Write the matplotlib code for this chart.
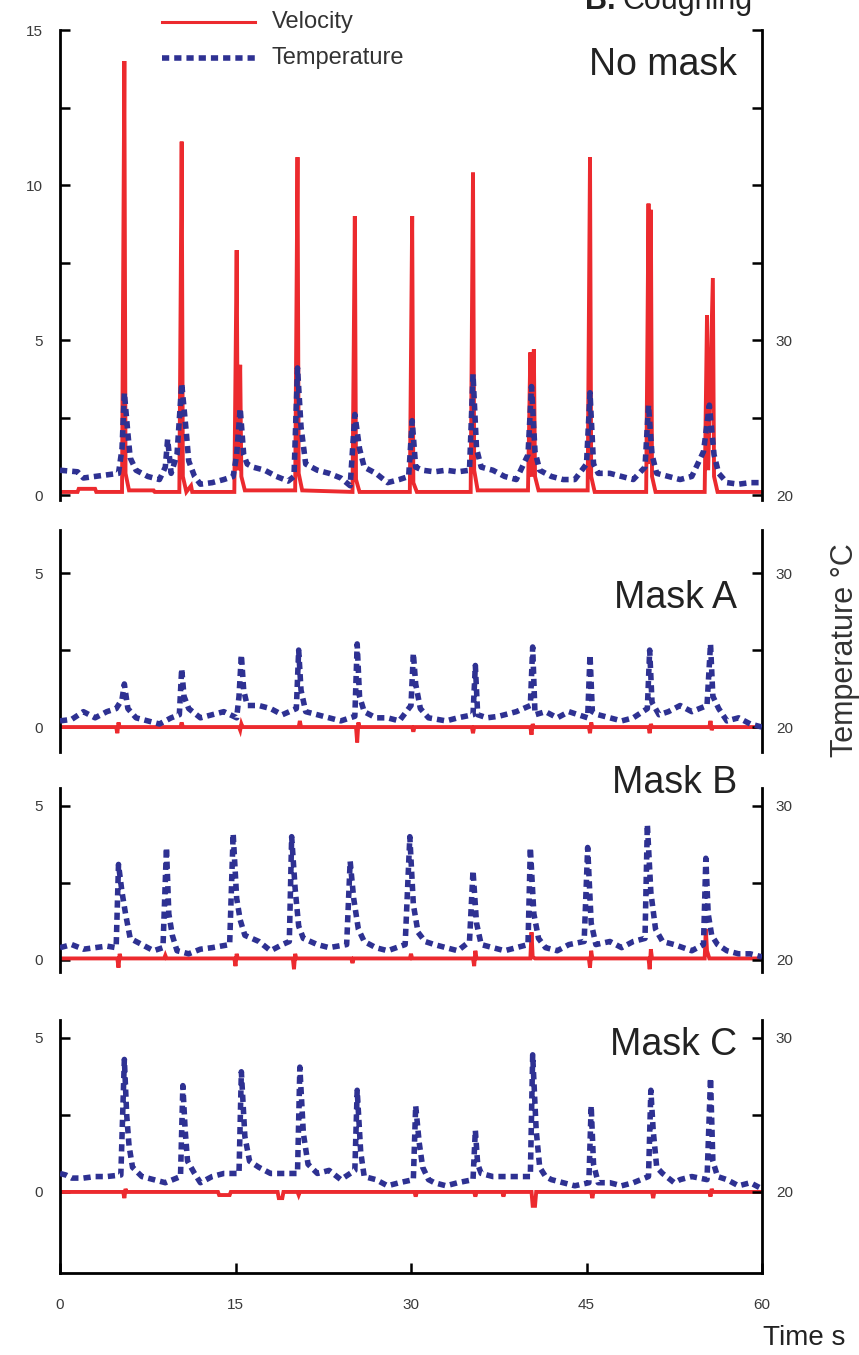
import matplotlib
matplotlib.use("Agg")
import matplotlib.pyplot as plt
from matplotlib.lines import Line2D

plt.rcParams['font.family'] = ['Liberation Sans', 'DejaVu Sans']

W, H = 859, 1355
RED = '#ec2a2e'
BLUE = '#2e3192'

panel_names = ["No mask", "Mask A", "Mask B", "Mask C"]
x_ticks = [0, 15, 30, 45, 60]

# ---- velocity (m/s, left axis) as (time s, value) ----
vel_nomask = [(0, 0.1), (1.5, 0.1), (1.6, 0.2), (3, 0.2), (3.1, 0.1), (5.3, 0.1), (5.5, 14.0), (5.6, 0.7),
              (5.9, 0.15), (8, 0.15), (8.1, 0.1), (10.2, 0.1), (10.4, 11.4), (10.5, 0.6), (10.8, 0.1),
              (11.2, 0.3), (11.3, 0.1), (14.9, 0.1), (15.1, 7.9), (15.2, 0.8), (15.4, 4.2), (15.5, 0.6),
              (15.8, 0.15), (20.1, 0.15), (20.3, 10.9), (20.4, 0.7), (20.7, 0.15), (25.0, 0.1), (25.2, 9.0),
              (25.3, 0.5), (25.6, 0.1), (29.9, 0.1), (30.1, 9.0), (30.2, 0.4), (30.5, 0.1), (35.1, 0.1),
              (35.3, 10.4), (35.4, 0.8), (35.7, 0.15), (40.0, 0.15), (40.2, 4.6), (40.3, 0.6), (40.5, 4.7),
              (40.6, 0.6), (40.9, 0.15), (45.1, 0.15), (45.3, 10.9), (45.4, 0.6), (45.7, 0.1), (50.1, 0.1),
              (50.3, 9.4), (50.4, 1.0), (50.5, 9.2), (50.6, 0.6), (50.9, 0.1), (55.1, 0.1), (55.3, 5.8),
              (55.4, 0.8), (55.8, 7.0), (55.9, 0.6), (56.2, 0.1), (60, 0.1)]
vel_maskA = [(0, 0), (4.8, 0), (4.9, -0.2), (5.0, 0.15), (5.1, 0), (10.3, 0), (10.4, 0.15), (10.5, 0),
             (15.3, 0), (15.4, -0.1), (15.5, 0.1), (15.6, 0), (20.4, 0), (20.5, 0.2), (20.6, 0), (25.3, 0),
             (25.4, -0.5), (25.5, 0.15), (25.6, 0), (30.1, 0), (30.2, -0.15), (30.3, 0), (35.2, 0),
             (35.3, -0.2), (35.4, 0), (40.2, 0), (40.3, -0.25), (40.4, 0.1), (40.5, 0), (45.2, 0),
             (45.3, -0.2), (45.4, 0.15), (45.5, 0), (50.3, 0), (50.4, -0.2), (50.5, 0.1), (50.6, 0),
             (55.5, 0), (55.6, 0.2), (55.7, -0.1), (55.8, 0), (60, 0)]
vel_maskB = [(0, 0.05), (4.9, 0.05), (5.0, -0.25), (5.1, 0.2), (5.2, 0.05), (8.9, 0.05), (9.0, 0.15),
             (9.1, 0.05), (14.9, 0.05), (15.0, -0.2), (15.1, 0.2), (15.2, 0.05), (19.9, 0.05), (20.0, -0.3),
             (20.1, 0.2), (20.2, 0.05), (24.9, 0.05), (25.0, -0.1), (25.1, 0.05), (29.9, 0.05), (30.0, 0.2),
             (30.1, 0.05), (35.3, 0.05), (35.4, -0.2), (35.5, 0.3), (35.6, 0.05), (40.2, 0.05), (40.3, 0.9),
             (40.4, 0.1), (40.6, 0.05), (45.2, 0.05), (45.3, -0.25), (45.4, 0.3), (45.5, 0.05), (50.3, 0.05),
             (50.4, -0.3), (50.5, 0.35), (50.6, 0.05), (55.1, 0.05), (55.2, 1.0), (55.3, 0.3), (55.5, 0.05),
             (60, 0.05)]
vel_maskC = [(0, 0), (5.4, 0), (5.5, -0.2), (5.6, 0.1), (5.7, 0), (13.5, 0), (13.6, -0.1), (14.5, -0.1),
             (14.6, 0), (18.6, 0), (18.7, -0.2), (19.0, -0.2), (19.1, 0), (20.3, 0), (20.4, -0.1), (20.5, 0),
             (30.3, 0), (30.4, -0.15), (30.5, 0), (35.4, 0), (35.5, -0.15), (35.6, 0), (37.8, 0),
             (37.9, -0.15), (38.0, 0), (40.3, 0), (40.4, -0.45), (40.6, -0.45), (40.7, 0), (45.4, 0),
             (45.5, -0.2), (45.6, 0), (50.6, 0), (50.7, -0.2), (50.8, 0), (55.5, 0), (55.6, -0.15),
             (55.7, 0.1), (55.8, 0), (60, 0)]

# ---- temperature (deg C, right axis) as (time s, value) ----
temp_nomask = [(0, 21.6), (1.5, 21.5), (2.0, 21.1), (3.0, 21.2), (4.0, 21.3), (5.0, 21.4), (5.3, 23.0),
               (5.5, 26.6), (5.8, 24.0), (6.0, 22.4), (6.5, 21.6), (7.5, 21.2), (8.5, 21.0), (9.0, 21.8),
               (9.2, 23.6), (9.5, 21.4), (10.0, 22.6), (10.4, 27.2), (10.8, 24.0), (11.0, 22.2), (11.5, 21.2),
               (12.0, 20.7), (13.0, 20.8), (14.0, 21.0), (14.8, 21.2), (15.1, 22.6), (15.4, 25.6), (15.7, 22.6),
               (16.0, 22.0), (16.5, 21.8), (17.5, 21.6), (18.5, 21.2), (19.5, 20.9), (20.0, 21.2), (20.3, 28.2),
               (20.6, 24.4), (21.0, 22.0), (22.0, 21.6), (23.0, 21.4), (24.0, 21.1), (24.8, 20.6), (25.2, 25.2),
               (25.6, 23.0), (26.0, 21.8), (27.0, 21.4), (28.0, 20.8), (29.0, 21.0), (29.8, 21.2), (30.1, 24.8),
               (30.4, 21.8), (31.0, 21.6), (32.0, 21.5), (33.0, 21.6), (34.0, 21.5), (35.0, 21.6), (35.3, 27.8),
               (35.6, 23.0), (36.0, 21.8), (37.0, 21.6), (38.0, 21.2), (39.0, 21.0), (40.0, 22.6), (40.3, 27.0),
               (40.6, 22.8), (41.0, 21.6), (42.0, 21.2), (43.0, 21.0), (44.0, 21.0), (45.0, 22.0), (45.3, 26.6),
               (45.6, 22.0), (46.0, 21.4), (47.0, 21.4), (48.0, 21.2), (49.0, 21.0), (50.0, 21.8), (50.3, 25.8),
               (50.6, 22.6), (51.0, 21.4), (52.0, 21.2), (53.0, 21.0), (54.0, 21.2), (55.0, 22.8), (55.5, 25.8),
               (55.9, 22.6), (56.3, 21.4), (57.0, 20.8), (58.0, 20.7), (59.0, 20.8), (60.0, 20.8)]
temp_maskA = [(0, 20.4), (1, 20.5), (2, 21.0), (3, 20.6), (4, 21.0), (4.8, 21.2), (5.3, 21.8), (5.5, 22.8),
              (5.8, 21.2), (6.5, 20.6), (7.5, 20.4), (8.5, 20.2), (9.5, 20.6), (10.2, 20.8), (10.4, 23.8),
              (10.6, 22.0), (11, 21.2), (12, 20.6), (13, 20.8), (14, 21.0), (15.1, 20.6), (15.3, 22.0),
              (15.5, 24.7), (15.7, 22.4), (16, 21.4), (17, 21.4), (18, 21.2), (19, 20.8), (20.2, 21.2),
              (20.4, 25.0), (20.6, 22.4), (21, 21.0), (22, 20.8), (23, 20.6), (24, 20.4), (25.2, 20.7),
              (25.4, 25.4), (25.6, 22.0), (26, 21.0), (27, 20.6), (28, 20.6), (29, 20.4), (30.0, 21.4),
              (30.2, 24.8), (30.4, 22.8), (30.8, 21.2), (31.5, 20.6), (33, 20.4), (34, 20.6), (35.3, 20.8),
              (35.5, 24.0), (35.7, 20.8), (36.5, 20.6), (37.5, 20.7), (39, 21.0), (40.2, 21.4), (40.4, 25.2),
              (40.6, 20.8), (41.5, 21.0), (42.5, 20.6), (43.5, 21.0), (45.1, 20.6), (45.3, 24.7), (45.5, 21.0),
              (46, 20.8), (47, 20.6), (48, 20.4), (49, 20.6), (50.2, 21.2), (50.4, 25.0), (50.6, 21.6),
              (51.2, 20.8), (52, 21.0), (53, 21.4), (54, 21.0), (55.3, 21.4), (55.6, 25.4), (55.8, 22.0),
              (56.3, 21.2), (57, 20.4), (58, 20.6), (59, 20.2), (60, 20.0)]
temp_maskB = [(0, 20.8), (1, 21.0), (2, 20.7), (3, 20.8), (4, 20.9), (4.8, 20.8), (5.0, 26.2), (5.3, 24.4),
              (5.6, 23.0), (6, 21.4), (7, 21.0), (8, 20.6), (8.8, 20.8), (9.1, 27.3), (9.3, 23.0), (9.6, 21.6),
              (10, 20.6), (11, 20.4), (12, 20.7), (13, 20.8), (14.5, 21.0), (14.8, 28.2), (15.1, 24.0),
              (15.4, 22.6), (15.8, 21.6), (17, 21.2), (18, 20.6), (19, 21.0), (19.6, 21.2), (19.8, 28.0),
              (20.1, 24.6), (20.4, 22.2), (20.8, 21.4), (22, 21.0), (23, 20.8), (24.5, 21.0), (24.8, 26.4),
              (25.1, 24.0), (25.5, 22.0), (26, 21.2), (27, 20.8), (28, 20.6), (29.5, 21.0), (29.9, 28.0),
              (30.2, 23.6), (30.6, 21.8), (31.2, 21.2), (32, 21.0), (33, 20.8), (34, 20.6), (35, 21.2),
              (35.3, 25.8), (35.6, 22.4), (36, 21.0), (37, 20.8), (38, 20.6), (39, 20.8), (40.0, 21.0),
              (40.2, 27.3), (40.5, 23.0), (40.9, 21.4), (41.5, 20.8), (42.5, 20.6), (43.5, 21.0), (44.8, 21.2),
              (45.1, 27.3), (45.4, 22.4), (45.8, 21.0), (47, 21.2), (48, 20.8), (49, 21.2), (50.0, 21.4),
              (50.2, 28.8), (50.5, 24.4), (50.9, 22.0), (51.5, 21.2), (52.5, 21.0), (54, 20.6), (55.0, 21.0),
              (55.2, 26.6), (55.4, 23.0), (55.7, 21.6), (56.2, 21.0), (57, 20.6), (58, 20.4), (59, 20.4),
              (60, 20.2)]
temp_maskC = [(0, 21.2), (0.5, 21.1), (1, 20.9), (2, 20.9), (3, 21.0), (4, 21.0), (5.2, 21.1), (5.5, 28.6),
              (5.7, 25.0), (5.9, 23.0), (6.2, 21.6), (7, 21.0), (8, 20.8), (9, 20.6), (10.3, 21.0), (10.5, 26.9),
              (10.7, 24.0), (10.9, 22.0), (11.5, 21.2), (12, 20.6), (13, 21.0), (14, 21.2), (15.3, 21.2),
              (15.5, 27.8), (15.8, 23.6), (16.2, 22.0), (17, 21.6), (18, 21.2), (19, 21.2), (20.3, 21.2),
              (20.5, 28.1), (20.8, 23.8), (21.2, 21.8), (22, 21.2), (23, 21.4), (24, 20.8), (25.2, 21.4),
              (25.4, 26.6), (25.7, 22.6), (26, 21.0), (27, 20.8), (28, 20.4), (29, 20.6), (30.2, 20.8),
              (30.4, 25.6), (30.7, 23.2), (31, 21.6), (31.5, 20.8), (32, 20.6), (33, 20.4), (34, 20.6),
              (35.3, 20.8), (35.5, 24.0), (35.7, 21.8), (36, 21.2), (37, 21.0), (38, 21.0), (39, 21.0),
              (40.2, 21.0), (40.4, 28.9), (40.7, 24.0), (41, 21.6), (41.5, 21.0), (42, 20.8), (43, 20.6),
              (44, 20.4), (45.2, 20.6), (45.4, 25.6), (45.6, 21.8), (46, 20.6), (47, 20.6), (48, 20.4),
              (49, 20.6), (50.3, 21.0), (50.5, 26.6), (50.7, 24.0), (51, 21.6), (51.5, 21.2), (52.5, 20.6),
              (53, 20.8), (54, 21.0), (55.3, 20.8), (55.6, 27.4), (55.8, 22.0), (56.2, 21.0), (57, 20.8),
              (58, 20.4), (59, 20.6), (60, 20.2)]

velocities = [vel_nomask, vel_maskA, vel_maskB, vel_maskC]
temperatures = [temp_nomask, temp_maskA, temp_maskB, temp_maskC]

# layout (pixels): top, bottom, velocity limits
panels_px = [(30, 500), (530, 752), (788, 972), (1020, 1273)]
vel_lims = [(-0.16, 15.0), (-0.81, 6.4), (-0.39, 5.58), (-2.63, 5.58)]
vel_ticks = [[0, 2.5, 5, 7.5, 10, 12.5, 15], [0, 2.5, 5], [0, 2.5, 5], [0, 2.5, 5]]
label_xy = [65, 598, 783, 1045]

X0, X1 = 60, 762
fig = plt.figure(figsize=(W / 100, H / 100), dpi=100)

TICKCOL = '#3a3a3a'
DASH = (0, (1.3, 0.9))
for i in range(4):
    top, bot = panels_px[i]
    ax = fig.add_axes([X0 / W, 1 - bot / H, (X1 - X0) / W, (bot - top) / H])
    tw = ax.twinx()
    vt, vv = zip(*velocities[i])
    tt, tv = zip(*temperatures[i])
    ax.plot(vt, vv, color=RED, lw=2.8, solid_joinstyle='miter', zorder=2)
    tw.plot(tt, tv, color=BLUE, lw=4.0, linestyle=DASH, dash_capstyle='butt', zorder=3)
    lo, hi = vel_lims[i]
    ax.set_ylim(lo, hi)
    tw.set_ylim(20 + 2 * lo, 20 + 2 * hi)
    ax.set_xlim(0, 60)
    ax.set_yticks(vel_ticks[i])
    ax.set_yticklabels([('%g' % v) if v % 5 == 0 else '' for v in vel_ticks[i]])
    tticks = [20 + 2 * v for v in vel_ticks[i]]
    tw.set_yticks(tticks)
    tw.set_yticklabels([('%g' % t) if t in (20, 30) else '' for t in tticks])
    for a in (ax, tw):
        for s in a.spines.values():
            s.set_visible(False)
    ax.spines['left'].set_visible(True)
    ax.spines['right'].set_visible(True)
    ax.spines['left'].set_linewidth(2.0)
    ax.spines['right'].set_linewidth(2.0)
    ax.tick_params(axis='y', direction='in', length=7, width=1.8, pad=12, labelsize=11, labelcolor=TICKCOL)
    tw.tick_params(axis='y', direction='in', length=7, width=1.8, pad=10, labelsize=11, labelcolor=TICKCOL)
    if i == 3:
        ax.spines['bottom'].set_visible(True)
        ax.spines['bottom'].set_linewidth(2.0)
        ax.set_xticks(x_ticks)
        ax.set_xticklabels([str(v) for v in x_ticks])
        ax.tick_params(axis='x', direction='in', length=7, width=1.8, pad=18, labelsize=11,
                       labelcolor=TICKCOL)
    else:
        ax.set_xticks([])
    fig.text(737 / W, 1 - label_xy[i] / H, panel_names[i], ha='right', va='center',
             fontsize=27, color='#222222')

# legend
fig.add_artist(Line2D([162 / W, 255 / W], [1 - 22 / H, 1 - 22 / H], color=RED, lw=2.2))
fig.add_artist(Line2D([162 / W, 255 / W], [1 - 58 / H, 1 - 58 / H], color=BLUE, lw=4.0,
                      linestyle=DASH, dash_capstyle='butt'))
fig.text(272 / W, 1 - 22 / H, "Velocity", ha='left', va='center', fontsize=17, color='#333333')
fig.text(272 / W, 1 - 58 / H, "Temperature", ha='left', va='center', fontsize=17, color='#333333')

# titles / axis labels (title partly above the top edge, as in the reference)
fig.text(585 / W, 1 - 9 / H, "B.", ha='left', va='baseline', fontsize=22, fontweight='bold', color='#222222')
fig.text(622 / W, 1 - 9 / H, "Coughing", ha='left', va='baseline', fontsize=22, color='#222222')
fig.text(845 / W, 1 - 650 / H, "Temperature °C", rotation=90, ha='center', va='center',
         fontsize=22, color='#333333')
fig.text(845 / W, 1 - 1338 / H, "Time s", ha='right', va='center', fontsize=20, color='#222222')

fig.savefig("out.png", dpi=100)
